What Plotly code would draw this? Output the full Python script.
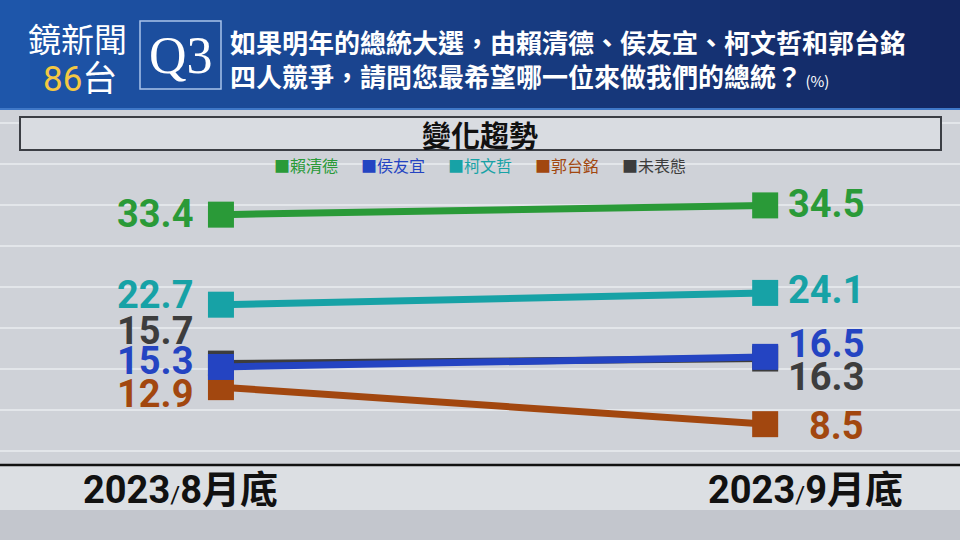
import plotly.graph_objects as go

# ---------------- data ----------------
periods = ["2023/8月底", "2023/9月底"]
candidates = ["賴清德", "侯友宜", "柯文哲", "郭台銘", "未表態"]
lai = [33.4, 34.5]
hou = [15.3, 16.5]
ko = [22.7, 24.1]
gou = [12.9, 8.5]
undecided = [15.7, 16.3]

title_text = "變化趨勢"
question_line1 = "如果明年的總統大選，由賴清德、侯友宜、柯文哲和郭台銘"
question_line2 = "四人競爭，請問您最希望哪一位來做我們的總統？"
unit_text = "(%)"

# ---------------- style ----------------
series = [lai, hou, ko, gou, undecided]
colors = ["#2a9a38", "#2444c2", "#17a2a6", "#a2470f", "#3d3d3d"]
draw_order = [4, 3, 2, 1, 0]          # undecided drawn first (lies under blue)
# vertical offsets (px) of the value labels, to keep them from overlapping
label_shift = {"賴清德": (1, 1), "侯友宜": (6, 13), "柯文哲": (10, 3),
               "郭台銘": (-7, -2), "未表態": (33, -18)}

W, H = 960, 540
CJK = "Noto Sans CJK TC"
NUM = "Roboto, Noto Sans CJK TC"


def py(p):
    return 1 - p / H


def px(p):
    return p / W


fig = go.Figure()

for i in draw_order:
    fig.add_trace(go.Scatter(
        x=periods, y=series[i], name=candidates[i], mode="lines+markers",
        line=dict(color=colors[i], width=7),
        marker=dict(symbol="square", size=26, color=colors[i], line=dict(width=0)),
        hoverinfo="skip", showlegend=False,
    ))

annotations = []
# value labels
for i, name in enumerate(candidates):
    sl, sr = label_shift[name]
    annotations.append(dict(x=periods[0], y=series[i][0], xref="x", yref="y",
                            text=f"{series[i][0]:.1f}", showarrow=False,
                            xanchor="right", yanchor="middle", xshift=-26, yshift=sl,
                            height=30,
                            font=dict(family=NUM, size=38, color=colors[i], weight="bold")))
    annotations.append(dict(x=periods[1], y=series[i][1], xref="x", yref="y",
                            text=f"{series[i][1]:.1f}", showarrow=False,
                            xanchor="right", yanchor="middle", xshift=101, yshift=sr,
                            height=30,
                            font=dict(family=NUM, size=38, color=colors[i], weight="bold")))

# period labels under the axis
for k, p in enumerate(periods):
    yr, rest = p.split("/")
    annotations.append(dict(x=p, y=py(490), xref="x", yref="paper",
                            text=f"{yr}<span style='font-size:24px;font-weight:normal'>/</span>{rest}",
                            showarrow=False, xanchor="center", yanchor="middle",
                            xshift=-40 if k == 0 else 40,
                            font=dict(family=NUM, size=38, color="#111111", weight="bold")))

# legend
for i, name in enumerate(candidates):
    annotations.append(dict(x=px(272 + i * 87), y=py(165), xref="paper", yref="paper",
                            text=f"■{name}", showarrow=False, xanchor="left", yanchor="middle",
                            font=dict(family=CJK, size=16, color=colors[i])))

# title box text
annotations.append(dict(x=0.5, y=py(134), xref="paper", yref="paper", text=title_text,
                        showarrow=False, xanchor="center", yanchor="middle",
                        font=dict(family=CJK, size=29, color="#111111", weight="bold")))

# header
annotations += [
    dict(x=px(77), y=py(38), xref="paper", yref="paper", text="鏡新聞", showarrow=False,
         xanchor="center", yanchor="middle",
         font=dict(family=CJK, size=33, color="white")),
    dict(x=px(80), y=py(76), xref="paper", yref="paper",
         text="<span style='color:#f3c843;font-family:Roboto'>86</span>台", showarrow=False,
         xanchor="center", yanchor="middle",
         font=dict(family=CJK, size=35, color="white")),
    dict(x=px(181), y=py(55), xref="paper", yref="paper", text="Q3", showarrow=False,
         xanchor="center", yanchor="middle",
         font=dict(family="Liberation Serif", size=52, color="white")),
    dict(x=px(228), y=py(41), xref="paper", yref="paper", text=question_line1, showarrow=False,
         xanchor="left", yanchor="middle",
         font=dict(family=CJK, size=26, color="white", weight="bold")),
    dict(x=px(228), y=py(76), xref="paper", yref="paper",
         text=f"{question_line2}<span style='font-size:15px;font-weight:normal'> {unit_text}</span>",
         showarrow=False, xanchor="left", yanchor="middle",
         font=dict(family=CJK, size=26, color="white", weight="bold")),
]

shapes = []
# header gradient
n = 32
c0, c1 = (30, 86, 170), (19, 38, 96)
for k in range(n):
    t = k / (n - 1)
    c = tuple(int(c0[j] + (c1[j] - c0[j]) * t) for j in range(3))
    shapes.append(dict(type="rect", xref="paper", yref="paper",
                       x0=k / n, x1=(k + 1) / n + 0.002, y0=py(110), y1=1,
                       fillcolor=f"rgb{c}", line=dict(width=0), layer="above"))
shapes.append(dict(type="line", xref="paper", yref="paper", x0=0, x1=1, y0=py(109), y1=py(109),
                   line=dict(color="#3f78c8", width=2), layer="above"))
# Q3 box
shapes.append(dict(type="rect", xref="paper", yref="paper", x0=px(140), x1=px(221),
                   y0=py(89), y1=py(21), line=dict(color="#a9c3ea", width=1.5),
                   fillcolor="rgba(0,0,0,0)", layer="above"))
# title box
shapes.append(dict(type="rect", xref="paper", yref="paper", x0=px(20), x1=px(941),
                   y0=py(150), y1=py(117), line=dict(color="#3b3e44", width=2),
                   fillcolor="#d9dce1", layer="above"))
# band under axis
shapes.append(dict(type="rect", xref="paper", yref="paper", x0=0, x1=1,
                   y0=py(510), y1=py(466), line=dict(width=0),
                   fillcolor="#dcdfe3", layer="above"))
shapes.append(dict(type="rect", xref="paper", yref="paper", x0=0, x1=1,
                   y0=0, y1=py(510), line=dict(width=0),
                   fillcolor="#c3c6cd", layer="above"))
# axis line
shapes.append(dict(type="line", xref="paper", yref="paper", x0=0, x1=1,
                   y0=py(465), y1=py(465), line=dict(color="#111111", width=2.5),
                   layer="above"))

fig.update_layout(
    width=W, height=H, margin=dict(l=0, r=0, t=0, b=0),
    paper_bgcolor="#cfd2d8", plot_bgcolor="#cfd2d8",
    xaxis=dict(type="category", categoryorder="array", categoryarray=periods,
               range=[-0.406, 1.358], showgrid=False, zeroline=False,
               showticklabels=False, fixedrange=True),
    yaxis=dict(range=[-5.265, 58.91], showgrid=True, gridcolor="#e3e6ea", gridwidth=1.5,
               tick0=34.55, dtick=4.87, zeroline=False, showticklabels=False,
               fixedrange=True),
    annotations=annotations, shapes=shapes, showlegend=False,
)

fig.write_html("out.html")
